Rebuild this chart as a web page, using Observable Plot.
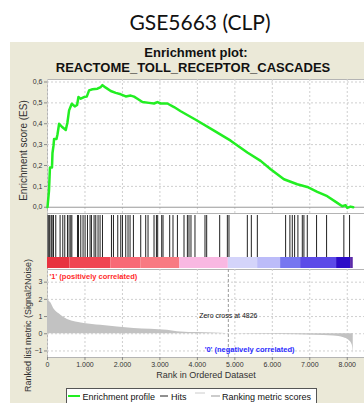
<!DOCTYPE html>
<html><head><meta charset="utf-8">
<script src="https://cdn.jsdelivr.net/npm/d3@7"></script>
<script src="https://cdn.jsdelivr.net/npm/@observablehq/plot@0.6"></script>
<style>
body{margin:0;background:#fff;}
#root{position:relative;width:364px;height:403px;overflow:hidden;font-family:"Liberation Sans",Arial,sans-serif;}
#panel{position:absolute;left:10px;top:42px;width:354px;height:361px;background:#ebe9d8;}
.abs{position:absolute;left:0;}
svg{display:block;}
</style></head><body>
<div id="root">
  <div id="panel"></div>
  <svg class="abs" style="top:0" width="364" height="80">
    <text x="200" y="30" text-anchor="middle" font-family="Lato" font-size="21" fill="#111">GSE5663 (CLP)</text>
    <text x="196" y="57" text-anchor="middle" font-family="Liberation Sans" font-weight="bold" font-size="13" fill="#111">Enrichment plot:</text>
    <text x="193" y="72" text-anchor="middle" font-family="Liberation Sans" font-weight="bold" font-size="13" fill="#111">REACTOME_TOLL_RECEPTOR_CASCADES</text>
  </svg>
  <div id="es" class="abs" style="top:79px"></div>
  <div id="hits" class="abs" style="top:213px"></div>
  <div id="metric" class="abs" style="top:269px"></div>
  <svg class="abs" style="top:386px" width="364" height="17">
    <rect x="66.5" y="2.5" width="250" height="20" fill="#fff" stroke="#555"/>
    <line x1="68" x2="80" y1="10" y2="10" stroke="#22ee22" stroke-width="2"/>
    <text x="82.5" y="14" font-family="Liberation Sans" font-size="9" fill="#111">Enrichment profile</text>
    <line x1="160" x2="168" y1="10" y2="10" stroke="#222" stroke-width="1"/>
    <text x="171" y="14" font-family="Liberation Sans" font-size="9" fill="#111">Hits</text>
    <line x1="195" x2="205" y1="7" y2="7" stroke="#ccc" stroke-width="1"/>
    <line x1="211" x2="220" y1="10" y2="10" stroke="#999" stroke-width="1"/>
    <text x="222" y="14" font-family="Liberation Sans" font-size="9" fill="#111">Ranking metric scores</text>
  </svg>
</div>
<script>
// ---------- data ----------
const esRanks  = [0,40,65,120,133,160,176,240,267,310,400,488,533,576,648,728,790,826,888,976,1048,1110,1200,1333,1421,1467,1555,1688,1821,1955,2088,2221,2310,2400,2533,2710,2843,2933,3022,3200,3377,3555,3955,4444,4888,5333,5688,5955,6310,6666,6933,7200,7466,7733,7866,7955,8000,8088,8160];
const esScores = [0,0.08,0.19,0.19,0.26,0.295,0.327,0.327,0.35,0.40,0.383,0.37,0.407,0.464,0.496,0.483,0.49,0.528,0.52,0.528,0.53,0.56,0.565,0.568,0.576,0.585,0.573,0.557,0.548,0.541,0.531,0.535,0.53,0.52,0.504,0.50,0.497,0.504,0.497,0.497,0.48,0.46,0.419,0.367,0.319,0.262,0.222,0.182,0.134,0.11,0.097,0.074,0.053,0.021,0.005,0.01,-0.003,0.003,0];
const hitRanks = [16,40,61,100,123,160,221,336,408,461,533,576,621,650,800,827,888,949,1003,1067,1136,1173,1243,1288,1349,1403,1467,1707,1760,1875,1955,2000,2088,2149,2203,2293,2488,2621,2683,2843,2907,2941,3048,3083,3261,3349,3467,3643,3733,3776,3829,3936,4203,4248,4595,4800,4843,5333,5440,5600,6355,6469,6533,6595,6683,6800,6843,6933,7181,7448,7909,8061];
const metricRanks  = [0,30,88,178,310,533,976,1421,2310,3200,3555,4443,4826,6221,7110,7643,7909,8043,8133,8160];
const metricValues = [2.2,1.95,1.8,1.43,1.16,0.83,0.60,0.49,0.31,0.20,0.10,0.04,0,-0.04,-0.08,-0.13,-0.23,-0.38,-0.65,-1.16];
const barEdges = [0,600,1688,2488,3533,4826,5608,6221,6755,7715,8088,8160];
const xTicks = [0,1000,2000,3000,4000,5000,6000,7000,8000];
const esTicks = [0,0.1,0.2,0.3,0.4,0.5,0.6];
const metricTicks = [-1,0,1,2,3];
const zeroCross = 4826;
const posLabel = "'1' (positively correlated)";
const negLabel = "'0' (negatively correlated)";

// ---------- chart ----------
const W = 364, ML = 47;
const xDomain = [0, 8460];
const fmtX = d => d === 0 ? "0" : d3.format(",")(d).replace(/,/g, ".");
const fmtES = d => d.toFixed(1).replace(".", ",");
const baseStyle = {background: "transparent", fontFamily: "Liberation Sans", fontSize: "7px", color: "#333", overflow: "visible"};
const grid = {stroke: "#cfcfcf", strokeOpacity: 1, strokeDasharray: "2,2"};

const esData = esRanks.map((r, i) => ({rank: r, es: esScores[i]}));
const esPlot = Plot.plot({
  width: W, height: 134, marginLeft: ML, marginRight: 0, marginTop: 0, marginBottom: 0,
  style: baseStyle,
  x: {domain: xDomain, axis: null},
  y: {domain: [-0.03, 0.612], axis: null},
  marks: [
    Plot.frame({fill: "white", stroke: "#b4b4b4"}),
    Plot.gridX(xTicks, grid),
    Plot.gridY(esTicks.slice(1), grid),
    Plot.ruleY([0], {stroke: "#9a9a9a"}),
    Plot.axisY(esTicks, {tickFormat: fmtES, tickSize: 3, tickPadding: 2, fontSize: 7, label: null, stroke: "#888"}),
    Plot.text(["Enrichment score (ES)"], {frameAnchor: "left", textAnchor: "middle", rotate: -90, dx: -24, dy: 4, fontSize: 10, fill: "#333"}),
    Plot.line(esData, {x: "rank", y: "es", stroke: "#22ee22", strokeWidth: 2.5})
  ]
});
document.getElementById("es").append(esPlot);

const segs = barEdges.slice(0, -1).map((e, i) => ({x1: e, x2: barEdges[i + 1], k: i}));
const hitsPlot = Plot.plot({
  width: W, height: 56, marginLeft: ML, marginRight: 0, marginTop: 0, marginBottom: 0,
  style: baseStyle,
  x: {domain: xDomain, axis: null},
  color: {type: "ordinal", domain: d3.range(segs.length),
          range: ["#e8323f","#f04552","#f86a76","#f87a82","#f9b8e2","#d4d4fa","#bcbcf9","#7676f0","#5c4ae8","#2c0cc8","#5a2aa8"]},
  marks: [
    Plot.frame({fill: "white", stroke: "#b4b4b4"}),
    Plot.ruleX(hitRanks, {x: d => d, insetTop: 2, insetBottom: 12, stroke: "#222", strokeWidth: 1}),
    Plot.rect(segs, {x1: "x1", x2: "x2", fill: "k", insetTop: 44, insetBottom: 1})
  ]
});
document.getElementById("hits").append(hitsPlot);

const metricData = metricRanks.map((r, i) => ({rank: r, v: metricValues[i]}));
const metricPlot = Plot.plot({
  width: W, height: 120, marginLeft: ML, marginRight: 0, marginTop: 0, marginBottom: 32,
  style: baseStyle,
  x: {domain: xDomain, axis: null},
  y: {domain: [-1.38, 3.736], axis: null},
  marks: [
    Plot.frame({fill: "white", stroke: "#b4b4b4"}),
    Plot.gridX(xTicks, grid),
    Plot.gridY(metricTicks, grid),
    Plot.areaY(metricData, {x: "rank", y: "v", fill: "#c2c2c2", curve: "monotone-x"}),
    Plot.ruleX([zeroCross], {stroke: "#999", strokeDasharray: "3,2"}),
    Plot.text([zeroCross], {x: d => d, frameAnchor: "top", dy: 44, text: d => `Zero cross at ${d}`, fontSize: 7, fill: "#111"}),
    Plot.text([posLabel], {frameAnchor: "top-left", textAnchor: "start", dx: 2, dy: 4, fontSize: 7.5, fontWeight: "bold", fill: "#ff2a2a"}),
    Plot.text([negLabel], {frameAnchor: "bottom-right", textAnchor: "end", dx: -70, dy: -6, fontSize: 7.5, fontWeight: "bold", fill: "#2a2aff"}),
    Plot.axisY(metricTicks, {tickSize: 3, tickPadding: 2, fontSize: 7, label: null, stroke: "#888"}),
    Plot.axisX(xTicks, {tickFormat: fmtX, tickSize: 3, tickPadding: 2, fontSize: 7, label: null, stroke: "#888"}),
    Plot.text(["Rank in Ordered Dataset"], {frameAnchor: "bottom", dy: 20, fontSize: 9, fill: "#333"}),
    Plot.text(["Ranked list metric (Signal2Noise)"], {frameAnchor: "left", textAnchor: "middle", rotate: -90, dx: -19, dy: 12, fontSize: 9, fill: "#333"})
  ]
});
document.getElementById("metric").append(metricPlot);
</script>
</body></html>
